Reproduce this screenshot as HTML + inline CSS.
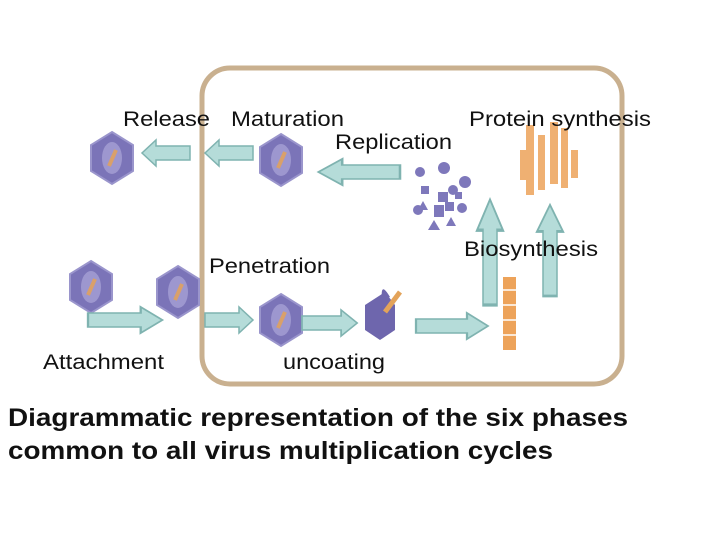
<!DOCTYPE html>
<html><head><style>
body{margin:0;width:720px;height:540px;background:#fff;overflow:hidden}
svg{position:absolute;left:0;top:0}
text{font-family:"Liberation Sans",sans-serif;fill:#111}
</style></head><body>
<svg width="720" height="540" viewBox="0 0 720 540">
<defs>
<g id="vir">
<polygon points="0,-26 21,-13 21,13 0,26 -21,13 -21,-13" fill="#7b74b8" stroke="#9a95cc" stroke-width="2"/>
<ellipse cx="0" cy="0" rx="10" ry="16" fill="#9d97cf"/>
<line x1="-3" y1="8" x2="4" y2="-8" stroke="#d9a06a" stroke-width="4"/>
</g>
<g id="ar">
<polygon points="0,-7 34,-7 34,-13 48,0 34,13 34,7 0,7" fill="#b5dcd9" stroke="#7fb3b0" stroke-width="1.5"/>
</g>
</defs>
<rect x="202" y="68" width="420" height="316" rx="28" fill="#fff" stroke="#c9b08f" stroke-width="5"/>
<use href="#vir" x="112" y="158"/>
<use href="#vir" x="281" y="160"/>
<use href="#vir" x="91" y="287"/>
<use href="#vir" x="178" y="292"/>
<use href="#vir" x="281" y="320"/>
<path d="M365,305 L385,292 L395,305 L395,330 L380,340 L365,330 Z" fill="#6e66ad"/>
<path d="M382,300 Q380,280 390,297" fill="#6e66ad"/>
<line x1="385" y1="312" x2="400" y2="292" stroke="#e3a35a" stroke-width="5"/>
<g fill="#7e78bb">
<circle cx="420" cy="172" r="5"/><circle cx="444" cy="168" r="6"/><circle cx="465" cy="182" r="6"/><circle cx="453" cy="190" r="5"/>
<rect x="421" y="186" width="8" height="8"/><rect x="438" y="192" width="10" height="10"/><rect x="434" y="205" width="10" height="12"/>
<rect x="445" y="202" width="9" height="9"/><circle cx="418" cy="210" r="5"/><circle cx="462" cy="208" r="5"/>
<polygon points="423,201 428,210 418,210"/><polygon points="434,220 440,230 428,230"/><polygon points="451,217 456,226 446,226"/>
<rect x="455" y="192" width="7" height="7"/>
</g>
<g fill="#eda35a" opacity="0.85">
<rect x="526" y="125" width="8" height="70"/><rect x="538" y="135" width="7" height="55"/><rect x="550" y="122" width="8" height="62"/>
<rect x="561" y="128" width="7" height="60"/><rect x="571" y="150" width="7" height="28"/><rect x="520" y="150" width="6" height="30"/>
</g>
<g fill="#eda35a"><rect x="503" y="277" width="13" height="73"/></g>
<g stroke="#fff" stroke-width="1.5">
<line x1="503" y1="290" x2="516" y2="290"/><line x1="503" y1="305" x2="516" y2="305"/><line x1="503" y1="320" x2="516" y2="320"/><line x1="503" y1="335" x2="516" y2="335"/>
</g>
<use href="#ar" transform="translate(190,153) rotate(180)"/>
<use href="#ar" transform="translate(253,153) rotate(180)"/>
<use href="#ar" transform="translate(400,172) scale(1.7,1) rotate(180)"/>
<use href="#ar" transform="translate(490,305) scale(1,2.2) rotate(-90)"/>
<use href="#ar" transform="translate(550,296) scale(1,1.9) rotate(-90)"/>
<use href="#ar" transform="translate(88,320) scale(1.55,1)"/>
<use href="#ar" transform="translate(205,320)"/>
<use href="#ar" transform="translate(302,323) scale(1.15,1)"/>
<use href="#ar" transform="translate(416,326) scale(1.5,1)"/>
<g font-size="21">
<text x="123" y="126" textLength="87" lengthAdjust="spacingAndGlyphs">Release</text>
<text x="231" y="126" textLength="113" lengthAdjust="spacingAndGlyphs">Maturation</text>
<text x="335" y="149" textLength="117" lengthAdjust="spacingAndGlyphs">Replication</text>
<text x="469" y="126" textLength="182" lengthAdjust="spacingAndGlyphs">Protein synthesis</text>
<text x="464" y="256" textLength="134" lengthAdjust="spacingAndGlyphs">Biosynthesis</text>
<text x="209" y="273" textLength="121" lengthAdjust="spacingAndGlyphs">Penetration</text>
<text x="43" y="369" textLength="121" lengthAdjust="spacingAndGlyphs">Attachment</text>
<text x="283" y="369" textLength="102" lengthAdjust="spacingAndGlyphs">uncoating</text>
</g>
<g font-size="25" font-weight="bold">
<text x="8" y="426" textLength="620" lengthAdjust="spacingAndGlyphs">Diagrammatic representation of the six phases</text>
<text x="8" y="459" textLength="545" lengthAdjust="spacingAndGlyphs">common to all virus multiplication cycles</text>
</g>
</svg>
</body></html>
